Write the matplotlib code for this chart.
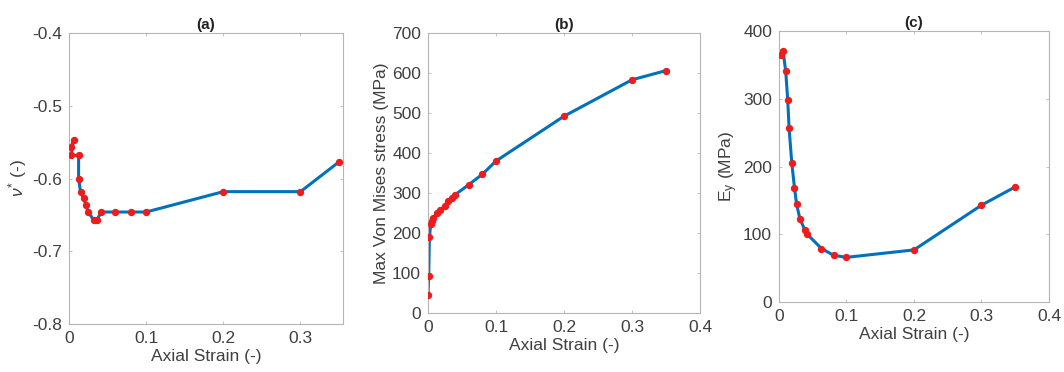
import matplotlib.pyplot as plt
import numpy as np

plt.rcParams['font.family'] = ['Liberation Sans', 'DejaVu Sans']
plt.rcParams['mathtext.fontset'] = 'custom'
plt.rcParams['mathtext.rm'] = 'Liberation Sans'
plt.rcParams['mathtext.it'] = 'Liberation Sans:italic'
plt.rcParams['axes.unicode_minus'] = False

# (a) Poisson's ratio vs axial strain
strain_a = [0.003, 0.006, 0.003, 0.0125, 0.0125, 0.015, 0.019, 0.022, 0.025,
            0.032, 0.036, 0.042, 0.06, 0.08, 0.1, 0.2, 0.3, 0.35]
nu_a = [-0.556, -0.547, -0.568, -0.568, -0.600, -0.618, -0.627, -0.636, -0.646,
        -0.657, -0.657, -0.646, -0.646, -0.646, -0.646, -0.618, -0.618, -0.577]

# (b) max von Mises stress vs axial strain
strain_b = [0.0, 0.001, 0.002, 0.004, 0.006, 0.008, 0.013, 0.018, 0.025, 0.03,
            0.035, 0.04, 0.06, 0.08, 0.1, 0.2, 0.3, 0.35]
stress_b = [46, 93, 190, 223, 229, 237, 250, 258, 268, 279, 288, 296,
            321, 347, 380, 492, 583, 606]

# (c) E_y vs axial strain
strain_c = [0.003, 0.006, 0.01, 0.013, 0.015, 0.019, 0.023, 0.026, 0.031,
            0.038, 0.041, 0.063, 0.081, 0.1, 0.2, 0.3, 0.35]
ey_c = [365, 371, 341, 298, 257, 205, 169, 145, 123, 107, 101, 79, 69, 66,
        77, 143, 170]

line_col = '#0072BD'
text_col = '#404040'
spine_col = '#b5b5b5'

fig = plt.figure(figsize=(10.64, 3.72), dpi=100)
ax_a = fig.add_axes([0.0648, 0.129, 0.2575, 0.782])
ax_b = fig.add_axes([0.4023, 0.1586, 0.2556, 0.7527])
ax_c = fig.add_axes([0.7321, 0.188, 0.2538, 0.7285])


def style(ax):
    for s in ax.spines.values():
        s.set_color(spine_col)
        s.set_linewidth(0.8)
    ax.tick_params(direction='in', length=2.5, width=0.6, color=spine_col,
                   labelcolor=text_col, labelsize=12.5, top=True, right=True, pad=5)


def draw(ax, x, y):
    ax.plot(x, y, color=line_col, lw=2.2, zorder=2)
    ax.plot(x, y, 'o', color='#ee1c1c', ms=4.3, mec='#ee1c1c', zorder=3)


draw(ax_a, strain_a, nu_a)
ax_a.set_xlim(0, 0.355)
ax_a.set_ylim(-0.8, -0.4)
ax_a.set_xticks([0, 0.1, 0.2, 0.3])
ax_a.set_xticklabels(['0', '0.1', '0.2', '0.3'])
ax_a.set_yticks([-0.8, -0.7, -0.6, -0.5, -0.4])
ax_a.set_ylabel(r'$\nu^{*}$ (-)', color=text_col, fontsize=12.5, labelpad=2)
ax_a.set_title('(a)', fontweight='bold', fontsize=11, color='#222222', pad=3)

draw(ax_b, strain_b, stress_b)
ax_b.set_xlim(0, 0.4)
ax_b.set_ylim(0, 700)
ax_b.set_xticks([0, 0.1, 0.2, 0.3, 0.4])
ax_b.set_xticklabels(['0', '0.1', '0.2', '0.3', '0.4'])
ax_b.set_yticks(np.arange(0, 701, 100))
ax_b.set_ylabel('Max Von Mises stress (MPa)', color=text_col, fontsize=12.5, labelpad=2)
ax_b.set_title('(b)', fontweight='bold', fontsize=11, color='#222222', pad=3)

draw(ax_c, strain_c, ey_c)
ax_c.set_xlim(0, 0.4)
ax_c.set_ylim(0, 400)
ax_c.set_xticks([0, 0.1, 0.2, 0.3, 0.4])
ax_c.set_xticklabels(['0', '0.1', '0.2', '0.3', '0.4'])
ax_c.set_yticks(np.arange(0, 401, 100))
ax_c.set_ylabel(r'E$_{\mathrm{y}}$ (MPa)', color=text_col, fontsize=12.5, labelpad=2)
ax_c.set_title('(c)', fontweight='bold', fontsize=11, color='#222222', pad=3)

for ax in (ax_a, ax_b, ax_c):
    style(ax)
    ax.set_xlabel('Axial Strain (-)', color=text_col, fontsize=12.5, labelpad=2)

fig.savefig('out.png', dpi=100)
